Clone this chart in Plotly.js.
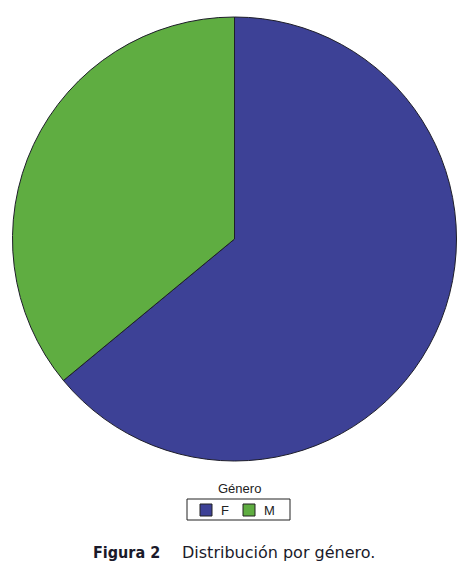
<!DOCTYPE html>
<html>
<head>
<meta charset="utf-8">
<script src="https://cdn.plot.ly/plotly-3.0.1.min.js"></script>
<style>
  html, body { margin: 0; padding: 0; background: #fff; }
  #chart { width: 460px; height: 569px; }
</style>
</head>
<body>
<div id="chart"></div>
<script>
// Distribution of respondents by gender (percent)
const categories = ['F', 'M'];
const shares = [64, 36];
const sliceColors = ['#3d4196', '#5fad41'];
const legendTitle = 'Género';

const W = 460, H = 569;
const px = x => x / W;            // pixel -> paper x
const py = y => 1 - y / H;        // pixel -> paper y

const trace = {
  type: 'pie',
  labels: categories,
  values: shares,
  sort: false,
  direction: 'clockwise',
  rotation: 0,
  textinfo: 'none',
  hoverinfo: 'label+percent',
  marker: { colors: sliceColors, line: { color: '#1e1e2a', width: 1 } },
  domain: { x: [px(12.5), px(456.5)], y: [py(461), py(17)] },
  showlegend: false
};

// Compact boxed legend below the pie: one swatch + label per category
const shapes = [{
  type: 'rect', xref: 'paper', yref: 'paper',
  x0: px(187), x1: px(290), y0: py(520), y1: py(499),
  line: { color: '#222', width: 1 }, fillcolor: '#ffffff'
}];
const annotations = [{
  text: legendTitle, xref: 'paper', yref: 'paper',
  x: px(239), y: py(488), xanchor: 'center', yanchor: 'middle',
  showarrow: false, font: { size: 13, color: '#222' }
}];
categories.forEach((cat, i) => {
  const left = 200 + i * 43;
  shapes.push({
    type: 'rect', xref: 'paper', yref: 'paper',
    x0: px(left), x1: px(left + 12), y0: py(516), y1: py(504),
    line: { color: '#222', width: 1 }, fillcolor: sliceColors[i]
  });
  annotations.push({
    text: cat, xref: 'paper', yref: 'paper',
    x: px(left + 19), y: py(510), xanchor: 'left', yanchor: 'middle',
    showarrow: false, font: { size: 13, color: '#222' }
  });
});

// Figure caption
annotations.push(
  {
    text: '<b>Figura 2</b>',
    xref: 'paper', yref: 'paper',
    x: px(91), y: py(552), xanchor: 'left', yanchor: 'middle',
    showarrow: false,
    font: { family: 'DejaVu Sans Condensed, DejaVu Sans, sans-serif', size: 16, color: '#1a1a2a' }
  },
  {
    text: 'Distribución por género.',
    xref: 'paper', yref: 'paper',
    x: px(180), y: py(552), xanchor: 'left', yanchor: 'middle',
    showarrow: false,
    font: { family: 'DejaVu Sans, Verdana, sans-serif', size: 16, color: '#1a1a2a' }
  }
);

const layout = {
  width: W,
  height: H,
  margin: { l: 0, r: 0, t: 0, b: 0 },
  paper_bgcolor: '#ffffff',
  font: { family: 'Liberation Sans, Arial, sans-serif', color: '#222', size: 13 },
  showlegend: false,
  shapes: shapes,
  annotations: annotations
};

Plotly.newPlot('chart', [trace], layout, { displayModeBar: false, staticPlot: true });
</script>
</body>
</html>
